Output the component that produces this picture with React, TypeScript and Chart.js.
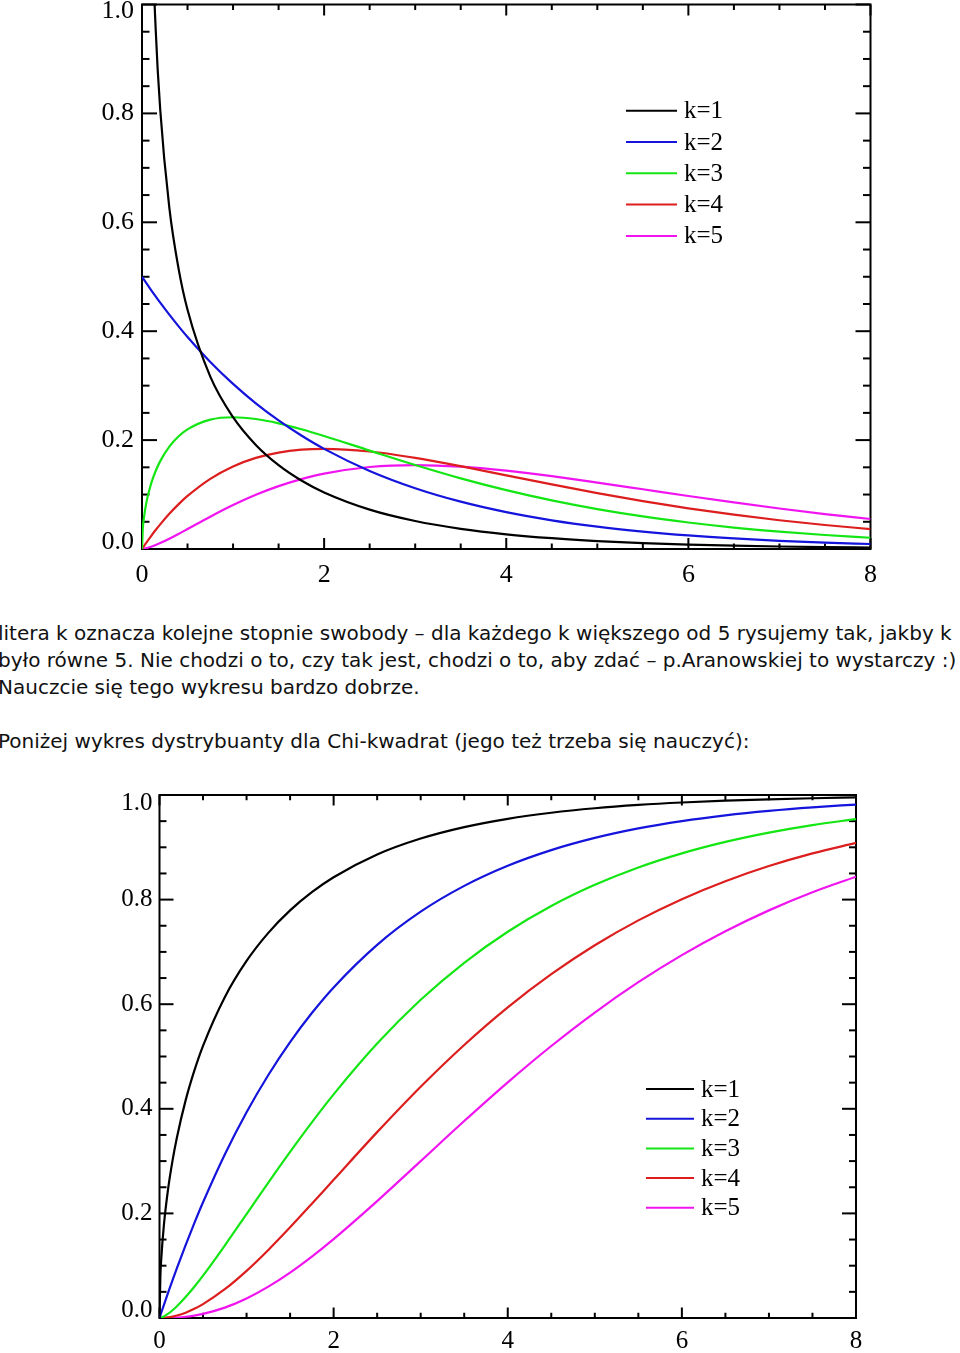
import React, { useEffect, useRef } from "react";
import { Chart, registerables } from "chart.js";
Chart.register(...registerables);

// ---------- data ----------
const xs = [0, 0.01, 0.02, 0.05, 0.1, 0.15, 0.2, 0.3, 0.4, 0.5, 0.75, 1, 1.25, 1.5, 1.75, 2, 2.5, 3, 3.5, 4, 4.5, 5, 5.5, 6, 6.5, 7, 7.5, 8];

const seriesLabels = ["k=1", "k=2", "k=3", "k=4", "k=5"];
const seriesColors = ["#000000", "#1414dc", "#14e614", "#dc1e1e", "#f014f0"];

// density (top chart)
const pdfK1 = [null, 3.970, 2.793, 1.740, 1.200, 0.9556, 0.8072, 0.6269, 0.5164, 0.4394, 0.3166, 0.2420, 0.1910, 0.1539, 0.1257, 0.1038, 0.0723, 0.0514, 0.0371, 0.0270, 0.0198, 0.0146, 0.0109, 0.0081, 0.0061, 0.0046, 0.0034, 0.0026];
const pdfK2 = [0.5, 0.4975, 0.4950, 0.4877, 0.4756, 0.4639, 0.4524, 0.4304, 0.4094, 0.3894, 0.3436, 0.3033, 0.2676, 0.2362, 0.2084, 0.1839, 0.1433, 0.1116, 0.0869, 0.0677, 0.0527, 0.0410, 0.0320, 0.0249, 0.0194, 0.0151, 0.0118, 0.0092];
const pdfK3 = [0, 0.0397, 0.0559, 0.0870, 0.1200, 0.1433, 0.1614, 0.1881, 0.2066, 0.2197, 0.2375, 0.2420, 0.2387, 0.2308, 0.2200, 0.2076, 0.1807, 0.1542, 0.1297, 0.1080, 0.0892, 0.0732, 0.0598, 0.0487, 0.0394, 0.0319, 0.0257, 0.0207];
const pdfK4 = [0, 0.0025, 0.0050, 0.0122, 0.0238, 0.0348, 0.0452, 0.0646, 0.0819, 0.0974, 0.1289, 0.1516, 0.1673, 0.1771, 0.1824, 0.1839, 0.1791, 0.1674, 0.1521, 0.1353, 0.1186, 0.1026, 0.0879, 0.0747, 0.0630, 0.0528, 0.0441, 0.0366];
const pdfK5 = [0, 0.0001, 0.0004, 0.0015, 0.0040, 0.0072, 0.0108, 0.0188, 0.0275, 0.0366, 0.0594, 0.0807, 0.0995, 0.1154, 0.1283, 0.1384, 0.1506, 0.1542, 0.1513, 0.1440, 0.1338, 0.1220, 0.1097, 0.0973, 0.0855, 0.0744, 0.0642, 0.0551];

// distribution function (bottom chart)
const cdfK1 = [0, 0.0797, 0.1125, 0.1769, 0.2482, 0.3015, 0.3453, 0.4161, 0.4729, 0.5205, 0.6135, 0.6827, 0.7364, 0.7793, 0.8141, 0.8427, 0.8862, 0.9167, 0.9386, 0.9545, 0.9661, 0.9747, 0.9810, 0.9857, 0.9892, 0.9918, 0.9938, 0.9953];
const cdfK2 = [0, 0.0050, 0.0100, 0.0247, 0.0488, 0.0723, 0.0952, 0.1393, 0.1813, 0.2212, 0.3127, 0.3935, 0.4647, 0.5276, 0.5831, 0.6321, 0.7135, 0.7769, 0.8262, 0.8647, 0.8946, 0.9179, 0.9361, 0.9502, 0.9612, 0.9698, 0.9765, 0.9817];
const cdfK3 = [0, 0.0003, 0.0007, 0.0029, 0.0082, 0.0148, 0.0224, 0.0400, 0.0598, 0.0811, 0.1386, 0.1987, 0.2590, 0.3177, 0.3741, 0.4276, 0.5247, 0.6084, 0.6792, 0.7385, 0.7877, 0.8282, 0.8614, 0.8884, 0.9103, 0.9281, 0.9425, 0.9540];
const cdfK4 = [0, 0.0000, 0.0000, 0.0003, 0.0012, 0.0027, 0.0047, 0.0102, 0.0175, 0.0265, 0.0550, 0.0902, 0.1302, 0.1734, 0.2184, 0.2642, 0.3554, 0.4422, 0.5221, 0.5940, 0.6574, 0.7127, 0.7603, 0.8009, 0.8352, 0.8641, 0.8883, 0.9084];
const cdfK5 = [0, 0, 0, 0.0000, 0.0002, 0.0004, 0.0009, 0.0024, 0.0047, 0.0079, 0.0199, 0.0374, 0.0600, 0.0869, 0.1175, 0.1509, 0.2235, 0.3000, 0.3766, 0.4506, 0.5201, 0.5841, 0.6421, 0.6938, 0.7394, 0.7794, 0.8140, 0.8438];

const xTickLabels = ["0", "2", "4", "6", "8"];
const yTickLabels = ["0.0", "0.2", "0.4", "0.6", "0.8", "1.0"];

const textLines = [
  "litera k oznacza kolejne stopnie swobody – dla każdego k większego od 5 rysujemy tak, jakby k",
  "było równe 5. Nie chodzi o to, czy tak jest, chodzi o to, aby zdać – p.Aranowskiej to wystarczy :)",
  "Nauczcie się tego wykresu bardzo dobrze.",
  "",
  "Poniżej wykres dystrybuanty dla Chi-kwadrat (jego też trzeba się nauczyć):",
];

// ---------- plugin: IDL-like frame with inward ticks, labels, legend ----------
const idlPlugin = {
  id: "idlFrame",
  beforeDatasetsDraw(chart: any, _args: any, o: any) {
    const { ctx, chartArea: a, scales } = chart;
    const x = scales.x, y = scales.y;
    ctx.save();
    ctx.strokeStyle = "#000";
    ctx.lineWidth = o.axisWidth;
    ctx.lineCap = "butt";
    const seg = (x1: number, y1: number, x2: number, y2: number) => {
      ctx.beginPath(); ctx.moveTo(x1, y1); ctx.lineTo(x2, y2); ctx.stroke();
    };
    const ny = Math.round((y.max - y.min) / o.yMinor);
    for (let i = 0; i <= ny; i++) {
      const v = y.min + i * o.yMinor;
      const py = y.getPixelForValue(v);
      const major = i % Math.round(o.yMajor / o.yMinor) === 0;
      const len = major ? o.yTickLen : o.yTickLen / 2;
      seg(a.left, py, a.left + len, py);
      seg(a.right, py, a.right - len, py);
    }
    const nx = Math.round((x.max - x.min) / o.xMinor);
    for (let i = 0; i <= nx; i++) {
      const v = x.min + i * o.xMinor;
      const px = x.getPixelForValue(v);
      const major = i % Math.round(o.xMajor / o.xMinor) === 0;
      const len = major ? o.xTickLen : o.xTickLen / 2;
      seg(px, a.bottom, px, a.bottom - len);
      seg(px, a.top, px, a.top + len);
    }
    ctx.strokeRect(a.left, a.top, a.right - a.left, a.bottom - a.top);
    ctx.restore();
  },
  afterDraw(chart: any, _args: any, o: any) {
    const { ctx, chartArea: a, scales } = chart;
    const x = scales.x, y = scales.y;
    ctx.save();
    ctx.fillStyle = "#000";
    ctx.font = `${o.labelSize}px "Liberation Serif", "Times New Roman", serif`;
    ctx.textAlign = "right";
    ctx.textBaseline = "middle";
    yTickLabels.forEach((t, i) => {
      let py = y.getPixelForValue(Number(t));
      if (i === 0) py -= o.endShift;
      if (i === yTickLabels.length - 1) py += o.endShift;
      ctx.fillText(t, a.left - o.yLabelGap, py);
    });
    ctx.textAlign = "center";
    xTickLabels.forEach((t) => {
      ctx.fillText(t, x.getPixelForValue(Number(t)), a.bottom + o.xLabelOffset);
    });
    ctx.font = `${o.legendSize}px "Liberation Serif", "Times New Roman", serif`;
    ctx.textAlign = "left";
    chart.data.datasets.forEach((ds: any, i: number) => {
      const ly = o.legendY + i * o.legendStep;
      ctx.strokeStyle = ds.borderColor;
      ctx.lineWidth = 2;
      ctx.beginPath();
      ctx.moveTo(o.legendX1, ly);
      ctx.lineTo(o.legendX2, ly);
      ctx.stroke();
      ctx.fillStyle = "#000";
      ctx.fillText(ds.label, o.legendTextX, ly + 1);
    });
    ctx.restore();
  },
};

function makeDatasets(series: (number | null)[][]) {
  return series.map((vals, i) => ({
    label: seriesLabels[i],
    data: xs.map((xv, j) => ({ x: xv, y: vals[j] })),
    borderColor: seriesColors[i],
    backgroundColor: seriesColors[i],
    borderWidth: 2.2,
    pointRadius: 0,
    fill: false,
    cubicInterpolationMode: "monotone" as const,
  }));
}

function ChiChart(props: { series: (number | null)[][]; width: number; height: number; padding: any; frame: any; style: any }) {
  const ref = useRef<HTMLCanvasElement>(null);
  useEffect(() => {
    if (!ref.current) return;
    const chart = new Chart(ref.current, {
      type: "line",
      data: { datasets: makeDatasets(props.series) as any },
      options: {
        responsive: false,
        animation: false,
        devicePixelRatio: 1,
        layout: { padding: props.padding },
        plugins: { legend: { display: false }, tooltip: { enabled: false }, idlFrame: props.frame } as any,
        scales: {
          x: { type: "linear", min: 0, max: 8, display: false },
          y: { type: "linear", min: 0, max: 1, display: false },
        },
      },
      plugins: [idlPlugin as any],
    });
    return () => chart.destroy();
  }, []);
  return <canvas ref={ref} width={props.width} height={props.height} style={props.style} />;
}

export default function App() {
  return (
    <div style={{ position: "absolute", left: 0, top: 0, width: 960, height: 1353, overflow: "hidden", background: "#fff" }}>
      <ChiChart
        series={[pdfK1, pdfK2, pdfK3, pdfK4, pdfK5]}
        width={960}
        height={600}
        style={{ position: "absolute", left: 0, top: 0, display: "block" }}
        padding={{ left: 142, right: 89.5, top: 4.5, bottom: 51 }}
        frame={{
          axisWidth: 2, yMinor: 0.05, yMajor: 0.2, xMinor: 0.5, xMajor: 2,
          yTickLen: 15, xTickLen: 11, labelSize: 26, yLabelGap: 8, endShift: 6.5, xLabelOffset: 26,
          legendSize: 25, legendX1: 626, legendX2: 677, legendTextX: 684, legendY: 110.7, legendStep: 31.3,
        }}
      />
      <div
        style={{
          position: "absolute", left: -2, top: 620, width: 980,
          fontFamily: '"DejaVu Sans", Verdana, sans-serif', fontSize: 20, lineHeight: "27px", color: "#111",
        }}
      >
        {textLines.map((t, i) => (
          <div key={i} style={{ whiteSpace: "nowrap", height: 27 }}>{t}</div>
        ))}
      </div>
      <ChiChart
        series={[cdfK1, cdfK2, cdfK3, cdfK4, cdfK5]}
        width={960}
        height={593}
        style={{ position: "absolute", left: 0, top: 760, display: "block" }}
        padding={{ left: 159.5, right: 104, top: 35, bottom: 35 }}
        frame={{
          axisWidth: 2, yMinor: 0.05, yMajor: 0.2, xMinor: 0.5, xMajor: 2,
          yTickLen: 14, xTickLen: 10.5, labelSize: 25, yLabelGap: 7, endShift: 8, xLabelOffset: 23,
          legendSize: 25, legendX1: 646, legendX2: 694, legendTextX: 701, legendY: 329, legendStep: 29.7,
        }}
      />
    </div>
  );
}
